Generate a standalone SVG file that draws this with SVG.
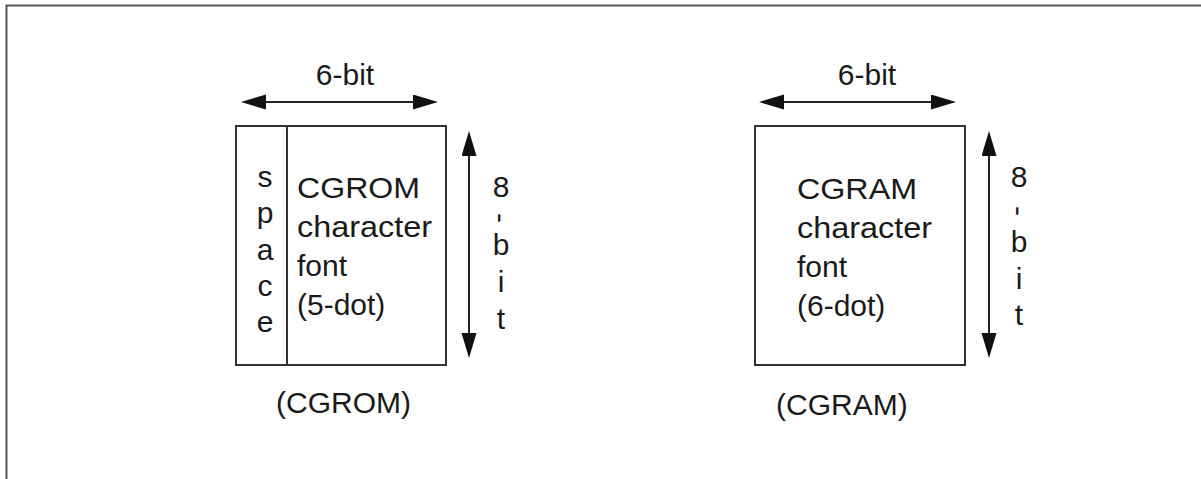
<svg xmlns="http://www.w3.org/2000/svg" width="1201" height="479" viewBox="0 0 1201 479">
<defs>
<style>
.t{font-family:"Liberation Sans",Arial,sans-serif;font-size:30px;fill:#1a1a1a}
.m{text-anchor:middle}
.box{fill:#fff;stroke:#333;stroke-width:2}
.ln{stroke:#333;stroke-width:2;fill:none}
.ar{stroke:#222;stroke-width:2;fill:none;marker-start:url(#ah);marker-end:url(#ah)}
</style>
<marker id="ah" markerUnits="userSpaceOnUse" markerWidth="26" markerHeight="16" refX="22" refY="7.5" orient="auto-start-reverse" viewBox="0 0 26 16">
<path d="M0,0 L25,7.5 L0,15 z" fill="#111"/>
</marker>
</defs>
<rect width="1201" height="479" fill="#fff"/>
<path d="M6.5,479 V5.5 H1201" fill="none" stroke="#555" stroke-width="2"/>

<g id="cgrom">
<rect class="box" x="236" y="126" width="210" height="239"/>
<line class="ln" x1="287" y1="126" x2="287" y2="365"/>
<text class="t m" x="265" y="187">s</text>
<text class="t m" x="265" y="223">p</text>
<text class="t m" x="265" y="260">a</text>
<text class="t m" x="265" y="296">c</text>
<text class="t m" x="265" y="332">e</text>
<text class="t" x="297" y="198" textLength="123" lengthAdjust="spacingAndGlyphs">CGROM</text>
<text class="t" x="297" y="237" textLength="135" lengthAdjust="spacingAndGlyphs">character</text>
<text class="t" x="297" y="276">font</text>
<text class="t" x="297" y="315">(5-dot)</text>
</g>

<g id="cgrom-label">
<text class="t" x="276" y="413">(CGROM)</text>
</g>

<g id="cgram">
<rect class="box" x="755" y="126" width="210" height="239"/>
<text class="t" x="797" y="199" textLength="120" lengthAdjust="spacingAndGlyphs">CGRAM</text>
<text class="t" x="797" y="238" textLength="135" lengthAdjust="spacingAndGlyphs">character</text>
<text class="t" x="797" y="277">font</text>
<text class="t" x="797" y="316">(6-dot)</text>
</g>

<g id="cgram-label">
<text class="t" x="776" y="415">(CGRAM)</text>
</g>

<g id="dims">
<text class="t m" x="345" y="85">6-bit</text>
<text class="t m" x="867" y="85">6-bit</text>
<text class="t m" x="501" y="197">8</text>
<text class="t m" transform="translate(501,218) rotate(90)" y="10">-</text>
<text class="t m" x="501" y="255">b</text>
<text class="t m" x="501" y="292">i</text>
<text class="t m" x="501" y="329">t</text>
<text class="t m" x="1019" y="187">8</text>
<text class="t m" transform="translate(1019,211) rotate(90)" y="10">-</text>
<text class="t m" x="1019" y="252">b</text>
<text class="t m" x="1019" y="289">i</text>
<text class="t m" x="1019" y="325">t</text>
</g>

<g id="connectors">
<line class="ar" x1="244" y1="102" x2="435" y2="102"/>
<line class="ar" x1="469" y1="134" x2="469" y2="355"/>
<line class="ar" x1="762" y1="102" x2="953" y2="102"/>
<line class="ar" x1="989" y1="134" x2="989" y2="355"/>
</g>
</svg>
